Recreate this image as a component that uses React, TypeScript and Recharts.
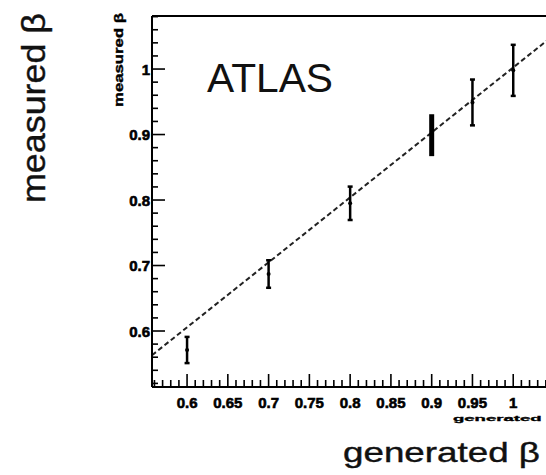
import { ComposedChart, XAxis, YAxis, Scatter, Line, ErrorBar, ReferenceLine } from "recharts";

const GEN_BETA = [0.6, 0.7, 0.8, 0.9, 0.95, 1.0];
const MEAS_BETA = [0.571, 0.687, 0.795, 0.899, 0.949, 0.998];
const MEAS_ERR = [0.02, 0.021, 0.0255, 0.032, 0.035, 0.039];

// dashed fit line endpoints
const FIT_X = [0.557, 1.05];
const FIT_Y = [0.563, 1.052];

const X_MAJOR = [0.6, 0.65, 0.7, 0.75, 0.8, 0.85, 0.9, 0.95, 1.0];
const Y_MAJOR = [0.6, 0.7, 0.8, 0.9, 1.0];

const X_DOMAIN: [number, number] = [0.557, 1.05];
const Y_DOMAIN: [number, number] = [0.5145, 1.081];

// minor ticks: 0.01 on x, 0.02 on y
const X_TICKS = Array.from({ length: 49 }, (_, i) => +(0.56 + i * 0.01).toFixed(2));
const Y_TICKS = Array.from({ length: 29 }, (_, i) => +(0.52 + i * 0.02).toFixed(2));

const FONT = "'Liberation Sans', Arial, Helvetica, sans-serif";

const isMajor = (v: number, list: number[]) => list.some((m) => Math.abs(m - v) < 1e-6);
const fmt = (v: number) => String(+v.toFixed(2));

const points = GEN_BETA.map((x, i) => ({ x, y: MEAS_BETA[i], err: MEAS_ERR[i] }));
const thinPoints = points.filter((p) => p.x !== 0.9);
const thickPoints = points.filter((p) => p.x === 0.9);
const fit = FIT_X.map((x, i) => ({ x, y: FIT_Y[i] }));

// ROOT-style labels are heavy, so give the bold text a thin outline
const heavy = { fontFamily: FONT, fontWeight: "bold" as const, fill: "#000", stroke: "#000", strokeWidth: 0.6 };

function XTick({ x, y, payload }: any) {
  const major = isMajor(payload.value, X_MAJOR);
  return (
    <g>
      <line x1={x} x2={x} y1={y} y2={y - (major ? 13 : 7)} stroke="#000" strokeWidth={1.6} />
      {major && (
        <text x={x} y={y + 21} textAnchor="middle" fontSize={15} {...heavy}>
          {fmt(payload.value)}
        </text>
      )}
    </g>
  );
}

function YTick({ x, y, payload }: any) {
  const major = isMajor(payload.value, Y_MAJOR);
  return (
    <g>
      <line x1={x} x2={x + (major ? 13 : 6)} y1={y} y2={y} stroke="#000" strokeWidth={1.6} />
      {major && (
        <text x={x - 2} y={y + 5.5} textAnchor="end" fontSize={15} {...heavy}>
          {fmt(payload.value)}
        </text>
      )}
    </g>
  );
}

const Dot = ({ cx, cy }: any) => <circle cx={cx} cy={cy} r={2} fill="#000" />;

export default function App() {
  return (
    <div
      style={{
        position: "absolute", left: 0, top: 0, width: 546, height: 475,
        overflow: "hidden", background: "#fff",
      }}
    >
      <ComposedChart width={556} height={475} margin={{ top: 16, right: 2, bottom: 0, left: 0 }}>
        <XAxis
          dataKey="x" type="number" domain={X_DOMAIN} allowDataOverflow
          ticks={X_TICKS} interval={0} tick={<XTick />} tickLine={false}
          tickSize={0} tickMargin={0} height={88}
          axisLine={{ stroke: "#000", strokeWidth: 2 }}
        />
        <YAxis
          type="number" domain={Y_DOMAIN} allowDataOverflow
          ticks={Y_TICKS} interval={0} tick={<YTick />} tickLine={false}
          tickSize={0} tickMargin={0} width={152}
          axisLine={{ stroke: "#000", strokeWidth: 2 }}
        />
        <ReferenceLine y={Y_DOMAIN[1]} stroke="#000" strokeWidth={2} />
        <Line
          data={fit} dataKey="y" type="linear" stroke="#222" strokeWidth={2}
          strokeDasharray="5 3" dot={false} activeDot={false} isAnimationActive={false}
        />
        <Scatter data={thinPoints} dataKey="y" shape={<Dot />} isAnimationActive={false}>
          <ErrorBar dataKey="err" direction="y" width={2.5} strokeWidth={2.5} stroke="#000" isAnimationActive={false} />
        </Scatter>
        <Scatter data={thickPoints} dataKey="y" shape={<Dot />} isAnimationActive={false}>
          <ErrorBar dataKey="err" direction="y" width={0} strokeWidth={5} stroke="#000" isAnimationActive={false} />
        </Scatter>
      </ComposedChart>

      <svg
        width={546} height={475}
        style={{ position: "absolute", left: 0, top: 0, pointerEvents: "none" }}
      >
        <text
          transform="translate(45,108) rotate(-90)" textAnchor="middle"
          fontFamily={FONT} fontSize={34} fill="#111" stroke="#111" strokeWidth={0.4}
          textLength={190} lengthAdjust="spacingAndGlyphs"
        >
          measured β
        </text>
        <text
          transform="translate(123,60) rotate(-90)" textAnchor="middle"
          fontSize={13} {...heavy} strokeWidth={0.4} textLength={94} lengthAdjust="spacingAndGlyphs"
        >
          measured β
        </text>
        <text
          x={207} y={92} fontFamily={FONT} fontSize={41} fill="#111"
          textLength={126} lengthAdjust="spacingAndGlyphs"
        >
          ATLAS
        </text>
        <text
          x={343} y={462} fontFamily={FONT} fontSize={28} fill="#111" stroke="#111" strokeWidth={0.4}
          textLength={197} lengthAdjust="spacingAndGlyphs"
        >
          generated β
        </text>
        <text
          x={453} y={421} fontSize={8} {...heavy} strokeWidth={0.3}
          textLength={105} lengthAdjust="spacingAndGlyphs"
        >
          generated β
        </text>
      </svg>
    </div>
  );
}
